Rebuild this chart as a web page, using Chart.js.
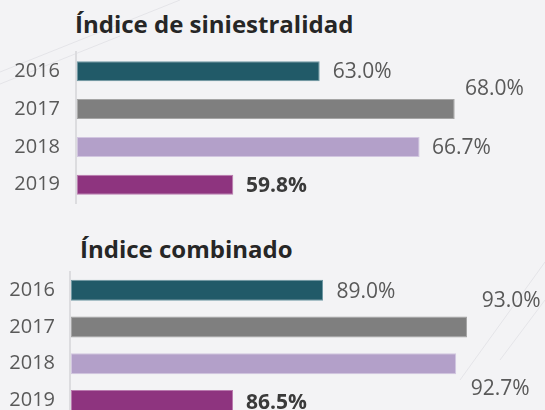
<!DOCTYPE html>
<html>
<head>
<meta charset="utf-8">
<script src="https://cdn.jsdelivr.net/npm/chart.js@4.4.1/dist/chart.umd.min.js"></script>
<style>
  html, body { margin: 0; padding: 0; }
  body { width: 545px; height: 410px; overflow: hidden; background: #f3f3f5; position: relative; font-family: "Open Sans", sans-serif; }
  .title { position: absolute; font-family: "Open Sans", sans-serif; font-weight: 700; font-size: 24px; line-height: 24px; color: #262626; white-space: nowrap; }
  .box { position: absolute; left: 0; width: 545px; height: 215px; }
  svg.deco { position: absolute; left: 0; top: 0; }
</style>
</head>
<body>
<svg class="deco" width="545" height="410">
  <line x1="0" y1="72" x2="180" y2="0" stroke="#e4e4e8" stroke-width="1"/>
  <line x1="0" y1="84" x2="120" y2="36" stroke="#e4e4e8" stroke-width="1"/>
  <line x1="460" y1="380" x2="545" y2="262" stroke="#e4e4e8" stroke-width="1"/>
  <line x1="500" y1="360" x2="545" y2="300" stroke="#e4e4e8" stroke-width="1"/>
</svg>
<div class="title" id="t1" style="left:75px; top:12px;">Índice de siniestralidad</div>
<div class="title" id="t2" style="left:80px; top:236.7px;">Índice combinado</div>
<div class="box" style="top:0px;"><canvas id="c1" width="545" height="215"></canvas></div>
<div class="box" style="top:215px;"><canvas id="c2" width="545" height="215"></canvas></div>
<script>
// ---- data ----
const years = ["2016", "2017", "2018", "2019"];
const siniestralidad = [63.0, 68.0, 66.7, 59.8];
const combinado = [89.0, 93.0, 92.7, 86.5];
const barColors = ["#215a68", "#7f7f7f", "#b3a0c9", "#8e347f"];
const barBorders = ["#6f98a3", "#a5a5a5", "#d2c6e0", "#b97aae"];

const valueLabels = {
  id: "valueLabels",
  afterDatasetsDraw(chart, args, opts) {
    const ctx = chart.ctx;
    const meta = chart.getDatasetMeta(0);
    const data = chart.data.datasets[0].data;
    ctx.save();
    ctx.textAlign = "left";
    ctx.textBaseline = "middle";
    meta.data.forEach((bar, i) => {
      const off = opts.offsets[i];
      const bold = opts.bold[i];
      ctx.font = (bold ? "700 " : "400 ") + opts.size + "px 'Open Sans', sans-serif";
      ctx.fillStyle = bold ? "#3a3a3a" : "#595959";
      ctx.fillText(data[i].toFixed(1) + "%", bar.x + off[0], bar.y + off[1]);
    });
    ctx.restore();
  }
};

function makeChart(id, values, cfg) {
  return new Chart(document.getElementById(id), {
    type: "bar",
    data: {
      labels: years,
      datasets: [{
        data: values,
        base: cfg.base,
        backgroundColor: barColors,
        borderColor: barBorders,
        borderWidth: 1,
        borderSkipped: false,
        categoryPercentage: 1,
        barPercentage: cfg.barPct
      }]
    },
    options: {
      indexAxis: "y",
      responsive: false,
      animation: false,
      layout: { padding: cfg.padding },
      plugins: {
        legend: { display: false },
        tooltip: { enabled: false },
        valueLabels: { offsets: cfg.offsets, bold: [false, false, false, true], size: 21 }
      },
      scales: {
        x: { display: false, min: cfg.min, max: cfg.max },
        y: {
          afterFit: s => { s.width = cfg.axisX; s.paddingTop = 0; s.paddingBottom = 0; },
          grid: { display: false, drawTicks: false },
          border: { display: true, color: "#dcdcdf", width: 2 },
          ticks: { color: "#595959", padding: cfg.tickPad, font: { family: "'Open Sans', sans-serif", size: 20 } }
        }
      }
    },
    plugins: [valueLabels]
  });
}

makeChart("c1", siniestralidad, {
  base: 54, min: 53.956, max: 70.789, axisX: 75.5, barPct: 0.53, tickPad: 15.5,
  padding: { top: 52.4, bottom: 11.4, left: 0, right: 15 },
  offsets: [[13, 1], [10.3, -20.5], [12.4, 1], [12.7, 1]]
});
makeChart("c2", combinado, {
  base: 82, min: 81.972, max: 95.028, axisX: 70, barPct: 0.57, tickPad: 15,
  padding: { top: 56.9, bottom: 11.1, left: 0, right: 5 },
  offsets: [[13.5, 2], [14.7, -26.2], [14.5, 25.2], [13, 2]]
});
</script>
</body>
</html>
